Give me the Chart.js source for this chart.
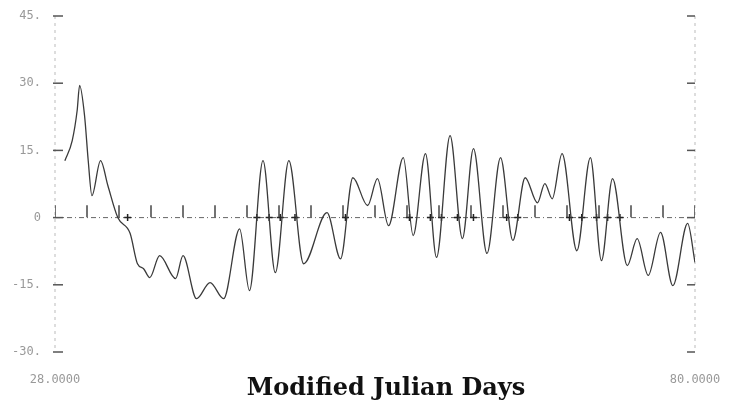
<!DOCTYPE html>
<html>
<head>
<meta charset="utf-8">
<script src="https://cdn.jsdelivr.net/npm/chart.js@4.4.0/dist/chart.umd.min.js"></script>
<style>
  html, body { margin: 0; padding: 0; background: #fff; }
  #wrap { width: 744px; height: 415px; }
</style>
</head>
<body>
<div id="wrap"><canvas id="plot" width="744" height="415"></canvas></div>
<script>
// residual curve (day, value)
const days = [28.8, 29.4, 29.8, 30.0, 30.4, 30.7, 31.0, 31.7, 32.3, 33.1, 34.1, 34.7, 35.2, 35.7,
  36.5, 37.8, 38.4, 39.5, 40.6, 41.7, 43.0, 43.8, 44.9, 45.9, 47.0, 48.2, 50.1, 51.2, 52.2, 53.4,
  54.2, 55.1, 56.3, 57.1, 58.1, 59.0, 60.1, 61.1, 62.0, 63.1, 64.2, 65.2, 66.2, 67.2, 67.8, 68.4,
  69.2, 70.4, 71.5, 72.4, 73.3, 74.5, 75.3, 76.2, 77.2, 78.2, 79.4, 80.0];
const values = [12.7, 17.2, 23.9, 29.5, 22.8, 12.7, 4.9, 12.7, 7.1, 0, -3.5, -10.3, -11.4, -13.4,
  -8.5, -13.6, -8.5, -18.1, -14.5, -18.1, -2.5, -16.3, 12.7, -12.3, 12.7, -10.3, 1.1, -9.2, 8.9, 2.7,
  8.7, -1.8, 13.4, -4.0, 14.3, -8.9, 18.3, -4.7, 15.4, -8.0, 13.4, -5.1, 8.9, 3.3, 7.6, 4.2,
  14.3, -7.4, 13.4, -9.6, 8.7, -10.7, -4.7, -12.9, -3.3, -15.2, -1.3, -10.0];

// tick marks along the zero line
const tickDays = [28, 30.6, 33.2, 35.8, 38.4, 41, 43.6, 46.2, 48.8, 51.4, 54, 56.6, 59.2, 61.8,
  64.4, 67, 69.6, 72.2, 74.8, 77.4, 80];
// small crosses on the zero line
const crossDays = [33.9, 44.4, 45.4, 46.3, 47.5, 51.6, 56.8, 58.5, 59.4, 60.7, 62.0, 64.7, 65.6,
  69.8, 70.8, 72.0, 72.9, 73.9];

const yTicks = [45, 30, 15, 0, -15, -30];
const yLabels = ['45.', '30.', '15.', '0', '-15.', '-30.'];
const xLabels = [[28, '28.0000'], [80, '80.0000']];
const xTitle = 'Modified Julian Days';

const decor = {
  id: 'decor',
  beforeDatasetsDraw(chart) {
    const ctx = chart.ctx, xs = chart.scales.x, ys = chart.scales.y;
    const x0 = xs.getPixelForValue(28), x1 = xs.getPixelForValue(80);
    const yTop = ys.getPixelForValue(45), yBot = ys.getPixelForValue(-30);
    const y0 = ys.getPixelForValue(0);
    ctx.save();
    // faint side axes
    ctx.strokeStyle = '#bbb';
    ctx.lineWidth = 1;
    ctx.setLineDash([3, 4]);
    [x0, x1].forEach(x => {
      ctx.beginPath(); ctx.moveTo(x, yTop); ctx.lineTo(x, yBot); ctx.stroke();
    });
    // zero line
    ctx.strokeStyle = '#666';
    ctx.setLineDash([5, 3, 1, 3]);
    ctx.beginPath(); ctx.moveTo(x0, y0); ctx.lineTo(x1, y0); ctx.stroke();
    ctx.setLineDash([]);
    // side ticks
    ctx.strokeStyle = '#555';
    ctx.lineWidth = 1.5;
    yTicks.forEach(v => {
      const y = ys.getPixelForValue(v);
      ctx.beginPath(); ctx.moveTo(x0 - 2, y); ctx.lineTo(x0 + 8, y); ctx.stroke();
      ctx.beginPath(); ctx.moveTo(x1 - 8, y); ctx.lineTo(x1, y); ctx.stroke();
    });
    // labels
    ctx.fillStyle = '#999';
    ctx.font = '12px "DejaVu Sans Mono"';
    ctx.textAlign = 'right';
    ctx.textBaseline = 'middle';
    yTicks.forEach((v, i) => {
      ctx.fillText(yLabels[i], x0 - 14, ys.getPixelForValue(v));
    });
    ctx.textAlign = 'center';
    xLabels.forEach(([d, t]) => ctx.fillText(t, xs.getPixelForValue(d), 380));
    ctx.fillStyle = '#111';
    ctx.font = 'bold 24px "DejaVu Serif"';
    ctx.fillText(xTitle, 386, 389);
    ctx.restore();
  }
};

new Chart(document.getElementById('plot'), {
  type: 'line',
  data: {
    datasets: [
      {
        data: days.map((d, i) => ({ x: d, y: values[i] })),
        borderColor: '#3a3a3a',
        borderWidth: 1.3,
        pointRadius: 0,
        cubicInterpolationMode: 'monotone',
        fill: false
      },
      {
        data: tickDays.map(d => ({ x: d, y: 1.4 })),
        showLine: false,
        pointStyle: 'line',
        rotation: 90,
        pointRadius: 6,
        borderColor: '#444',
        borderWidth: 1.5
      },
      {
        data: crossDays.map(d => ({ x: d, y: 0 })),
        showLine: false,
        pointStyle: 'cross',
        pointRadius: 3.5,
        borderColor: '#222',
        borderWidth: 1.5
      }
    ]
  },
  options: {
    responsive: false,
    animation: false,
    layout: { padding: { left: 55, right: 49, top: 16, bottom: 63 } },
    scales: {
      x: { type: 'linear', min: 28, max: 80, display: false },
      y: { min: -30, max: 45, display: false }
    },
    plugins: { legend: { display: false }, tooltip: { enabled: false } }
  },
  plugins: [decor]
});
</script>
</body>
</html>
